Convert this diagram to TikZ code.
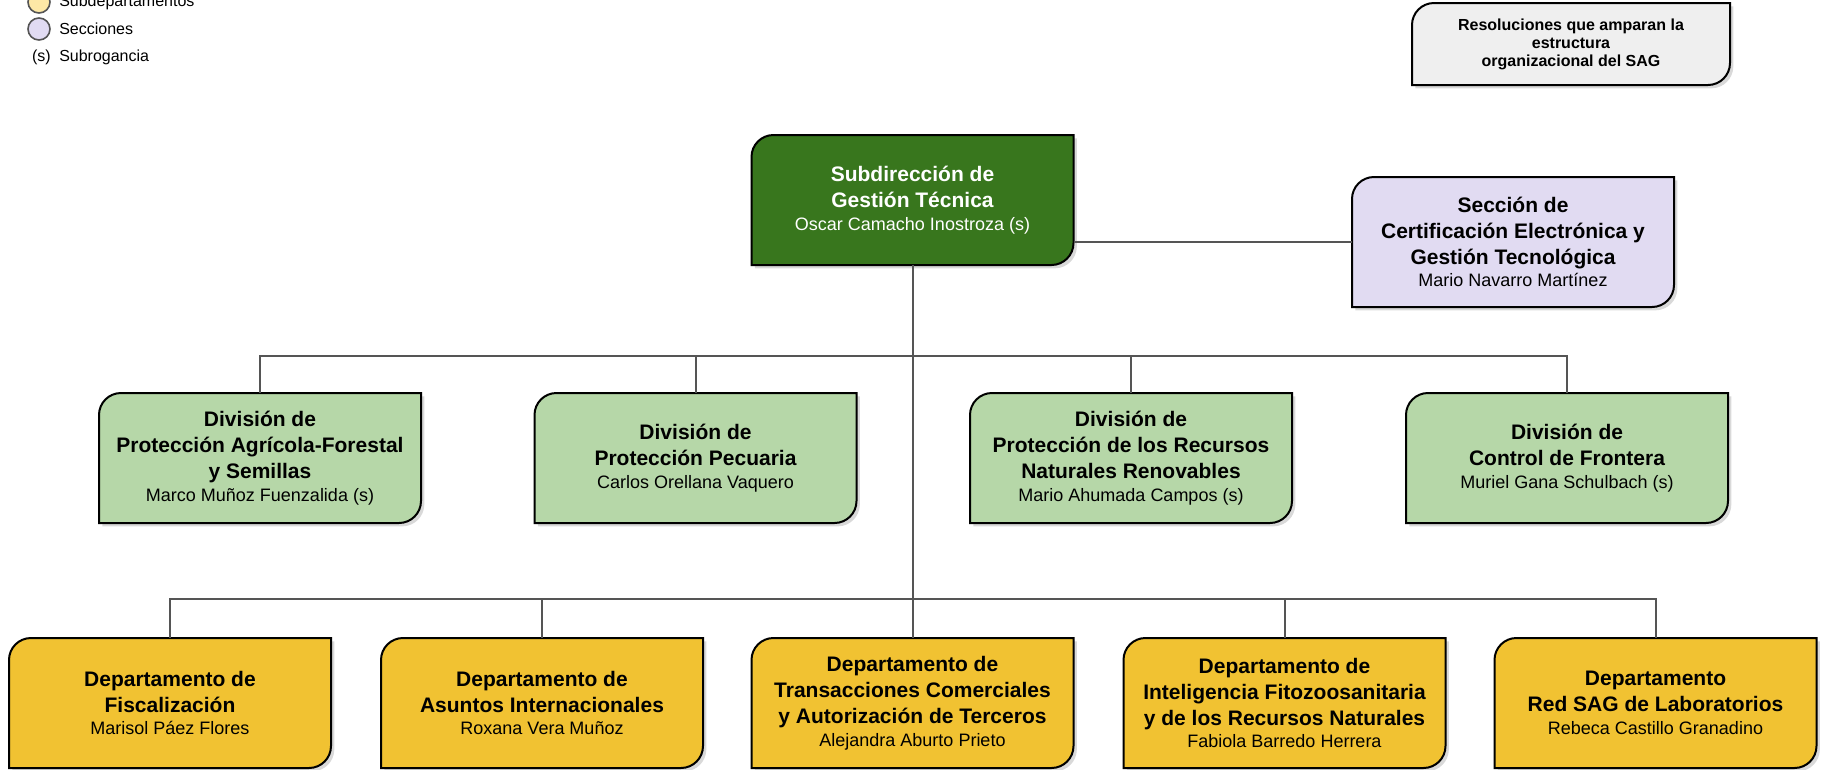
\documentclass[tikz,border=0pt]{standalone}
\usepackage{fontspec}
\setmainfont{Liberation Sans}
\usetikzlibrary{backgrounds,shadows}

\definecolor{verdeosc}{HTML}{38761D}
\definecolor{verdecla}{HTML}{B6D7A8}
\definecolor{amarillo}{HTML}{F1C232}
\definecolor{lila}{HTML}{E1DBF2}
\definecolor{gris}{HTML}{EFEFEF}
\definecolor{linea}{HTML}{555555}
\definecolor{amarilloley}{HTML}{FDE8A6}

\newcommand{\jefe}[1]{{\fontsize{13.5}{17.5}\selectfont\mdseries #1}}

\begin{document}
\begin{tikzpicture}[x=0.75pt,y=-0.75pt,
  unidad/.style={inner sep=0pt,outer sep=0pt,minimum width=241.5pt,minimum height=97.5pt,
    align=center,font=\fontsize{15.75}{19.5}\selectfont\bfseries},
  marco/.style={draw=black,line width=1.5pt,
    drop shadow={shadow xshift=2.5pt,shadow yshift=-2.5pt,opacity=0.3}},
  rama/.style={draw=linea,line width=1.5pt},
  leyenda/.style={circle,draw=linea,line width=1.2pt,minimum size=16.5pt,inner sep=0pt},
  leytexto/.style={inner sep=0pt,font=\fontsize{12}{14}\selectfont}]
\useasboundingbox (0,0) rectangle (1825,769);

% legend
\node[leyenda,fill=amarilloley] (leysub) at (39,2) {};
\node[leytexto,anchor=west] (leysubtxt) at (59,2) {Subdepartamentos};
\node[leyenda,fill=lila] (leysec) at (39,29) {};
\node[leytexto,anchor=west] (leysectxt) at (59,29) {Secciones};
\node[leytexto,anchor=east] (leysubr) at (51,57) {(s)};
\node[leytexto,anchor=west] (leysubrtxt) at (59,57) {Subrogancia};

\node[unidad,minimum width=238.5pt,minimum height=61.5pt,font=\fontsize{12}{13.5}\selectfont\bfseries]
  (resol) at (1571,44) {Resoluciones que amparan la\\estructura\\organizacional del SAG};

% top
\node[unidad,text=white] (subdir) at (912.5,200)
  {Subdirección de\\Gestión Técnica\\[-2.5pt]\jefe{Oscar Camacho Inostroza (s)}};
\node[unidad] (seccion) at (1513,242)
  {Sección de\\Certificación Electrónica y\\Gestión Tecnológica\\[-2.5pt]\jefe{Mario Navarro Martínez}};

% divisions
\node[unidad] (divagri) at (260,458)
  {División de\\Protección Agrícola-Forestal\\y Semillas\\[-2.5pt]\jefe{Marco Muñoz Fuenzalida (s)}};
\node[unidad] (divpec) at (695.5,458)
  {División de\\Protección Pecuaria\\[-2.5pt]\jefe{Carlos Orellana Vaquero}};
\node[unidad] (divrnr) at (1131,458)
  {División de\\Protección de los Recursos\\Naturales Renovables\\[-2.5pt]\jefe{Mario Ahumada Campos (s)}};
\node[unidad] (divfront) at (1567,458)
  {División de\\Control de Frontera\\[-2.5pt]\jefe{Muriel Gana Schulbach (s)}};

% departments
\node[unidad] (dptofis) at (170,703)
  {Departamento de\\Fiscalización\\[-2.5pt]\jefe{Marisol Páez Flores}};
\node[unidad] (dptoai) at (542,703)
  {Departamento de\\Asuntos Internacionales\\[-2.5pt]\jefe{Roxana Vera Muñoz}};
\node[unidad] (dptotc) at (912.5,703)
  {Departamento de\\Transacciones Comerciales\\y Autorización de Terceros\\[-2.5pt]\jefe{Alejandra Aburto Prieto}};
\node[unidad] (dptoifs) at (1284.5,703)
  {Departamento de\\Inteligencia Fitozoosanitaria\\y de los Recursos Naturales\\[-2.5pt]\jefe{Fabiola Barredo Herrera}};
\node[unidad] (dptolab) at (1655.5,703)
  {Departamento\\Red SAG de Laboratorios\\[-2.5pt]\jefe{Rebeca Castillo Granadino}};

% connectors
\coordinate (busdiv) at (912.5,356);
\coordinate (busdpto) at (912.5,599);
\draw[rama] (subdir.south) -- (dptotc.north);
\draw[rama] (subdir.east |- seccion.west) -- (seccion.west);
\draw[rama] (divagri.north) |- (busdiv) -| (divfront.north);
\foreach \d in {divpec,divrnr}
  \draw[rama] (\d.north) -- (\d.north |- busdiv);
\draw[rama] (dptofis.north) |- (busdpto) -| (dptolab.north);
\foreach \d in {dptoai,dptoifs}
  \draw[rama] (\d.north) -- (\d.north |- busdpto);

% boxes
\begin{scope}[on background layer]
\foreach \n/\c in {resol/gris,subdir/verdeosc,seccion/lila,divagri/verdecla,divpec/verdecla,
    divrnr/verdecla,divfront/verdecla,dptofis/amarillo,dptoai/amarillo,dptotc/amarillo,
    dptoifs/amarillo,dptolab/amarillo}
  \path[marco,fill=\c] (\n.south west) [rounded corners=16.5pt] -- (\n.north west)
    [sharp corners] -- (\n.north east) [rounded corners=16.5pt] -- (\n.south east)
    [sharp corners] -- cycle;
\end{scope}
\end{tikzpicture}
\end{document}
